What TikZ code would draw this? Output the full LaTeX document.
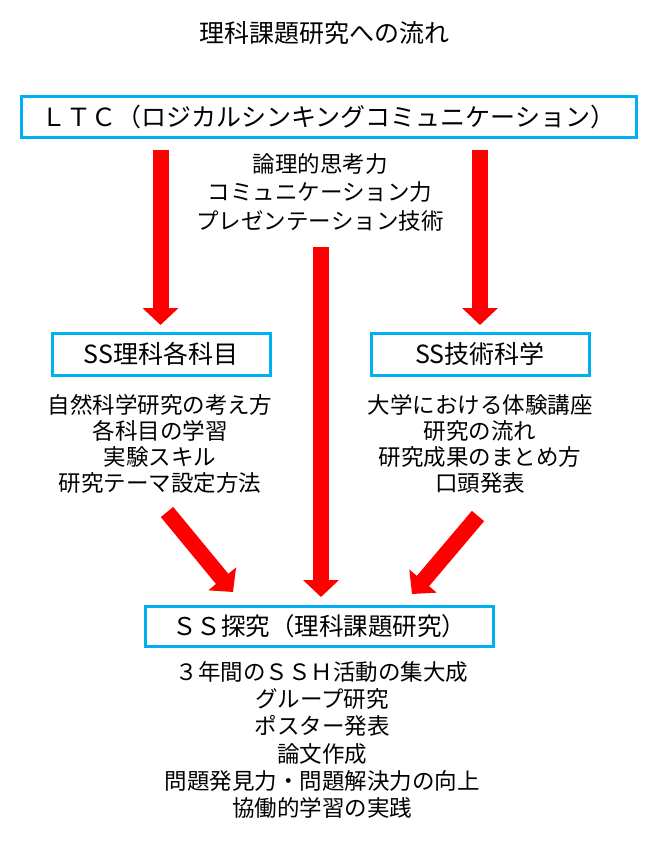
\documentclass[tikz,border=0pt]{standalone}
\usepackage{fontspec}
\setmainfont{Noto Sans CJK JP}
\usetikzlibrary{arrows.meta}
\definecolor{boxblue}{HTML}{00B0F0}
\definecolor{arrred}{HTML}{FF0000}
\begin{document}
\begin{tikzpicture}[x=1pt,y=-1pt,
  box/.style={draw=boxblue,line width=3pt,inner sep=0pt,font=\fontsize{25}{30}\selectfont},
  txt/.style={align=center,inner sep=0pt,font=\fontsize{22.5}{27}\selectfont},
  bigarrow/.style={draw=arrred,line width=16pt,-{Triangle[width=35pt,length=17pt]}}]
\useasboundingbox (0,0) rectangle (662,846);
% title
\node[inner sep=0pt,font=\fontsize{25}{30}\selectfont] (title) at (324,33) {理科課題研究への流れ};
% boxes
\node[box,minimum width=615pt,minimum height=41pt] (ltc) at (328.5,116.5) {ＬＴＣ（ロジカルシンキングコミュニケーション）};
\node[box,minimum width=218pt,minimum height=42pt] (rika) at (161,354) {SS理科各科目};
\node[box,minimum width=218pt,minimum height=42pt] (gijutsu) at (480,354) {SS技術科学};
\node[box,minimum width=348pt,minimum height=40pt,font=\fontsize{24.5}{30}\selectfont] (tankyu) at (319,626.5) {ＳＳ探究（理科課題研究）};
% texts
\node[txt,font=\fontsize{22.5}{28.5}\selectfont] (midtxt) at (320,192) {論理的思考力\\コミュニケーション力\\プレゼンテーション技術};
\node[txt,font=\fontsize{22.5}{26}\selectfont] (lefttxt) at (160,444) {自然科学研究の考え方\\各科目の学習\\実験スキル\\研究テーマ設定方法};
\node[txt,font=\fontsize{22.5}{26}\selectfont] (righttxt) at (480,444) {大学における体験講座\\研究の流れ\\研究成果のまとめ方\\口頭発表};
\node[txt,font=\fontsize{22.5}{27.2}\selectfont] (bottxt) at (322,740) {３年間のＳＳＨ活動の集大成\\グループ研究\\ポスター発表\\論文作成\\問題発見力・問題解決力の向上\\協働的学習の実践};
% arrow ends
\coordinate (a1s) at (160.5,150);
\coordinate (a1e) at (160.5,325);
\coordinate (a2s) at (480,150);
\coordinate (a2e) at (480,325);
\coordinate (a3s) at (321,247);
\coordinate (a3e) at (321,597);
\coordinate (a4s) at (167,512);
\coordinate (a4e) at (233,592);
\coordinate (a5s) at (478,516);
\coordinate (a5e) at (412,594);
\draw[bigarrow] (a1s) -- (a1e);
\draw[bigarrow] (a2s) -- (a2e);
\draw[bigarrow] (a3s) -- (a3e);
\draw[bigarrow] (a4s) -- (a4e);
\draw[bigarrow] (a5s) -- (a5e);
\end{tikzpicture}
\end{document}
